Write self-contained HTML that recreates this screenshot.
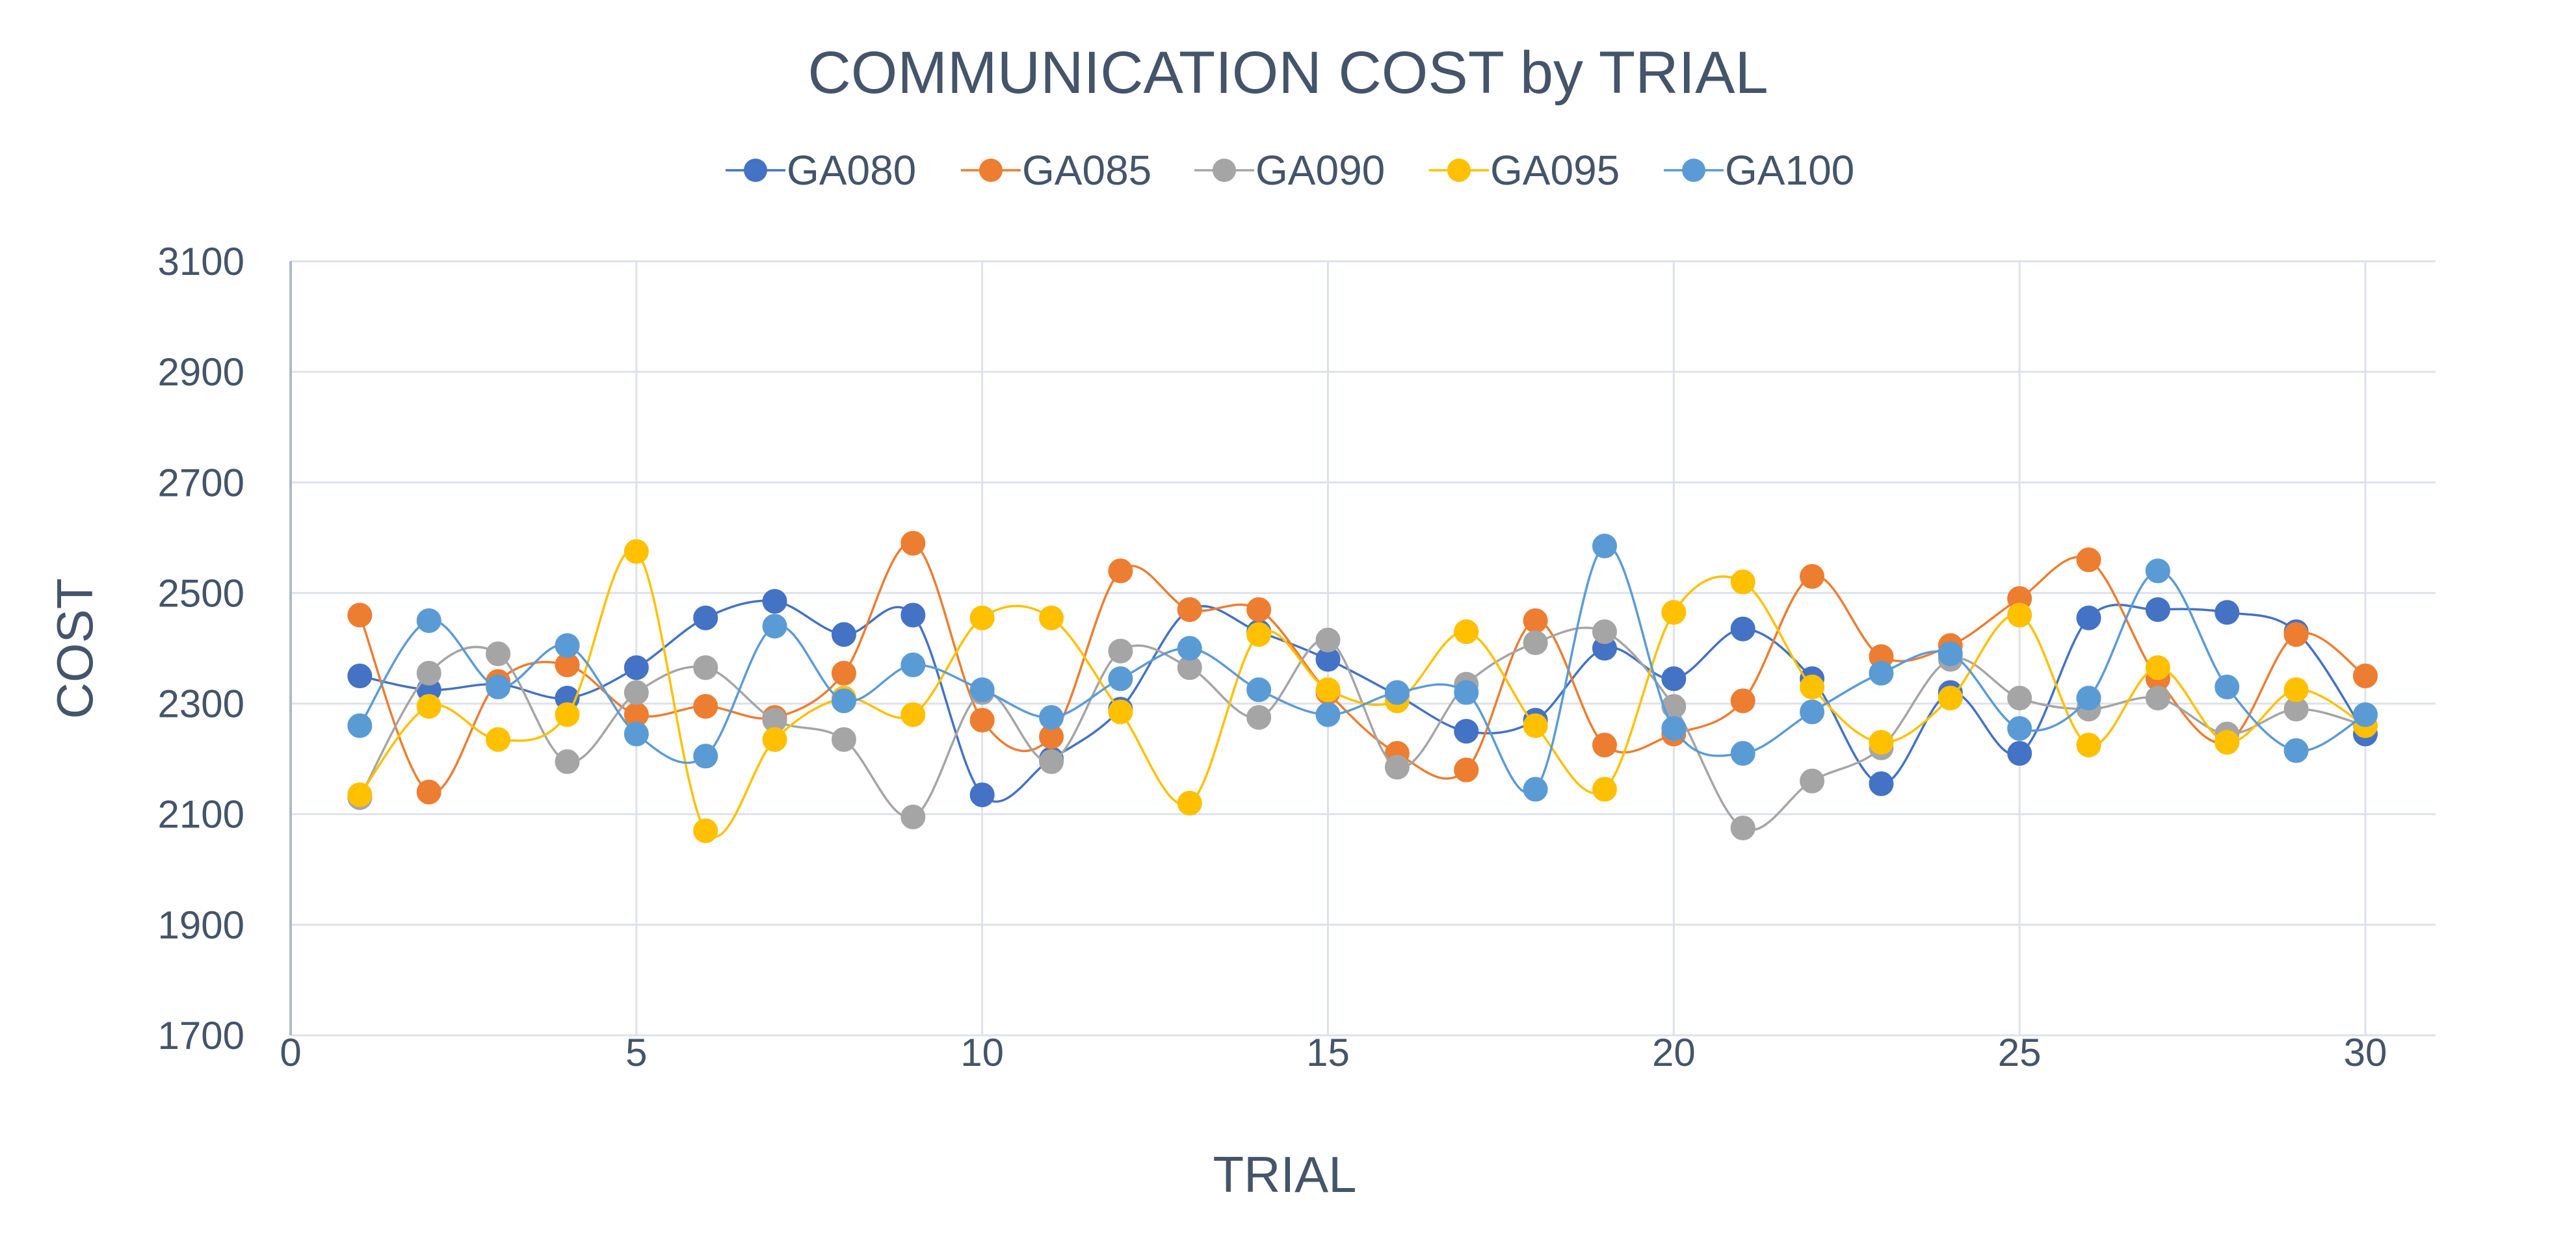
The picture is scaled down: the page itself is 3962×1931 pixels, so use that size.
<!DOCTYPE html>
<html><head><meta charset="utf-8"><style>
html,body{margin:0;padding:0;background:#fff}
svg text{font-family:"Liberation Sans",sans-serif;fill:#44546A}
</style></head><body>
<svg id="chart" width="3962" height="1926" viewBox="0 0 3962 1926" xmlns="http://www.w3.org/2000/svg">
<rect x="0" y="0" width="3962" height="1926" fill="#fff"/>
<text x="1981" y="143" text-anchor="middle" font-size="92">COMMUNICATION COST by TRIAL</text>
<g id="grid"></g>
<g id="axes"></g>
<g id="series"></g>
<g id="legend"></g>
<text x="0" y="0" transform="translate(142,998) rotate(-90)" text-anchor="middle" font-size="78">COST</text>
<text x="1976" y="1834" text-anchor="middle" font-size="78">TRIAL</text>
</svg>
<script>
const seriesNames = ["GA080","GA085","GA090","GA095","GA100"];
const seriesColors = ["#4472C4","#ED7D31","#A5A5A5","#FFC000","#5B9BD5"];
const ga080 = [2350,2325,2335,2310,2365,2455,2485,2425,2460,2135,2200,2290,2470,2430,2380,2315,2250,2270,2400,2345,2435,2345,2155,2320,2210,2455,2470,2465,2430,2245];
const ga085 = [2460,2140,2340,2370,2280,2295,2275,2355,2590,2270,2240,2540,2470,2470,2320,2210,2180,2450,2225,2245,2305,2530,2385,2405,2490,2560,2345,2230,2425,2350];
const ga090 = [2130,2355,2390,2195,2320,2365,2270,2235,2095,2320,2195,2395,2365,2275,2415,2185,2335,2410,2430,2295,2075,2160,2220,2380,2310,2290,2310,2245,2290,2260];
const ga095 = [2135,2295,2235,2280,2575,2070,2235,2310,2280,2455,2455,2285,2120,2425,2325,2305,2430,2260,2145,2465,2520,2330,2230,2310,2460,2225,2365,2230,2325,2260];
const ga100 = [2260,2450,2330,2405,2245,2205,2440,2305,2370,2325,2275,2345,2400,2325,2280,2320,2320,2145,2585,2255,2210,2285,2355,2390,2255,2310,2540,2330,2215,2280];
const yTicks = [1700,1900,2100,2300,2500,2700,2900,3100];
const xTicks = [0,5,10,15,20,25,30];

const NS="http://www.w3.org/2000/svg";
const X0=447,X1=3638,XR=3746,YT=402,YB=1593;
const xs=t=>X0+(t-0)*(X1-X0)/30;
const ys=v=>YB-(v-1700)*(YB-YT)/1400;
function mk(tag,attrs,parent){const e=document.createElementNS(NS,tag);for(const k in attrs)e.setAttribute(k,attrs[k]);parent.appendChild(e);return e;}
const grid=document.getElementById('grid'),axes=document.getElementById('axes'),ser=document.getElementById('series'),leg=document.getElementById('legend');

yTicks.forEach(v=>{
  const l=mk('line',{x1:X0,x2:XR,y1:ys(v),y2:ys(v),stroke:'#DDE2EA','stroke-width':3},grid);
  
  
  const t=mk('text',{x:376,y:ys(v)+21,'text-anchor':'end','font-size':60},axes);
  t.textContent=v;
  
  
});
xTicks.forEach(v=>{
  if(v>0){const l=mk('line',{x1:xs(v),x2:xs(v),y1:YT,y2:YB,stroke:'#DDE2EA','stroke-width':3},grid);
  
  }
  const t=mk('text',{x:xs(v),y:1640,'text-anchor':'middle','font-size':60},axes);
  t.textContent=v;
  
  
});
const ax=mk('line',{x1:X0,x2:X0,y1:YT,y2:YB,stroke:'#ADB9CA','stroke-width':4},axes);



const allSeries=[ga080,ga085,ga090,ga095,ga100];
function smoothPath(pts){
  let d=`M${pts[0][0]},${pts[0][1]}`;
  for(let i=0;i<pts.length-1;i++){
    const p0=pts[i-1]||pts[i],p1=pts[i],p2=pts[i+1],p3=pts[i+2]||p2;
    const c1=[p1[0]+(p2[0]-p0[0])/6,p1[1]+(p2[1]-p0[1])/6];
    const c2=[p2[0]-(p3[0]-p1[0])/6,p2[1]-(p3[1]-p1[1])/6];
    d+=` C${c1[0]},${c1[1]} ${c2[0]},${c2[1]} ${p2[0]},${p2[1]}`;
  }
  return d;
}
allSeries.forEach((vals,si)=>{
  const g=mk('g',{},ser);
  
  
  const pts=vals.map((v,i)=>[xs(i+1),ys(v)]);
  const p=mk('path',{d:smoothPath(pts),fill:'none',stroke:seriesColors[si],'stroke-width':3.5},g);
  
  
  pts.forEach(pt=>{
    const c=mk('circle',{cx:pt[0],cy:pt[1],r:18,fill:seriesColors[si],stroke:seriesColors[si],'stroke-width':2},g);
    
    
  });
});
const legX=[1162,1524,1883,2244,2605];
seriesNames.forEach((n,i)=>{
  const g=mk('g',{},leg);
  
  
  mk('line',{x1:legX[i]-46,x2:legX[i]+46,y1:262,y2:262,stroke:seriesColors[i],'stroke-width':3.5},g);
  mk('circle',{cx:legX[i],cy:262,r:18,fill:seriesColors[i]},g);
  const t=mk('text',{x:legX[i]+48,y:284,'font-size':64},g);
  t.textContent=n;
});
</script>
</body></html>
